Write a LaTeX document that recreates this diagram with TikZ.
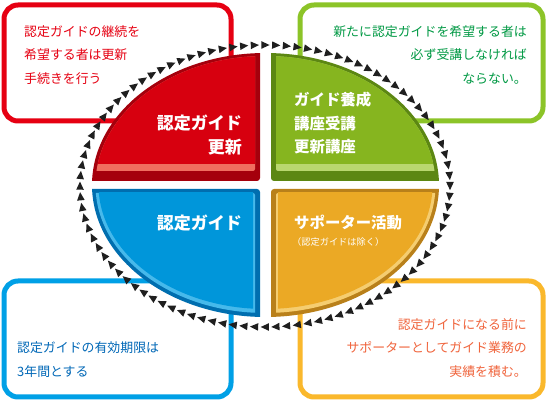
\documentclass[tikz,border=0pt]{standalone}
\usepackage{fontspec}
\setmainfont{Noto Sans CJK JP}
\usetikzlibrary{decorations.markings}
\definecolor{redA}{RGB}{215,0,15}
\definecolor{redR}{RGB}{165,0,12}
\definecolor{redH}{RGB}{240,110,95}
\definecolor{grnA}{RGB}{134,181,31}
\definecolor{grnR}{RGB}{92,135,18}
\definecolor{grnH}{RGB}{185,215,110}
\definecolor{bluA}{RGB}{0,150,218}
\definecolor{bluR}{RGB}{0,110,175}
\definecolor{bluH}{RGB}{70,185,235}
\definecolor{orgA}{RGB}{235,169,37}
\definecolor{orgR}{RGB}{185,128,26}
\definecolor{orgH}{RGB}{245,205,112}
\definecolor{redB}{RGB}{230,0,18}
\definecolor{grnB}{RGB}{140,196,40}
\definecolor{bluB}{RGB}{0,160,230}
\definecolor{orgB}{RGB}{250,184,44}
\definecolor{redT}{RGB}{230,0,18}
\definecolor{grnT}{RGB}{0,153,68}
\definecolor{bluT}{RGB}{0,104,183}
\definecolor{orgT}{RGB}{240,100,60}
\begin{document}
\begin{tikzpicture}[x=1pt,y=-1pt,
  infobox/.style={line width=5pt,rounded corners=14pt,fill=white},
  boxtext/.style={inner sep=0pt,font=\fontsize{12.9}{14}\selectfont},
  bigtext/.style={inner sep=0pt,text=white,font=\bfseries\fontsize{17}{18}\selectfont},
  midtext/.style={inner sep=0pt,text=white,font=\bfseries\fontsize{15.4}{17}\selectfont},
  smalltext/.style={inner sep=0pt,text=white,font=\fontsize{9.2}{10}\selectfont},
  ring/.style={decorate,decoration={markings,
     mark=between positions 0 and 0.999 step 0.0104167 with {\fill[black!88] (4.2,0) -- (-4,3.8) -- (-4,-3.8) -- cycle;}}}
]
\useasboundingbox (0,0) rectangle (547,403);
\coordinate (C) at (265.5,185);
\coordinate (R) at (265,186);
% info boxes
\draw[infobox,draw=redB] (4,5) rectangle (231,121);
\draw[infobox,draw=grnB] (300,5) rectangle (543,121);
\draw[infobox,draw=bluB] (4,281) rectangle (231,397);
\draw[infobox,draw=orgB] (300,281) rectangle (543,397);
% red quadrant
\begin{scope}
\clip[rounded corners=3pt] (40,20) rectangle (260,181);
\fill[redR] (C) ellipse [x radius=173.5, y radius=132];
\end{scope}
\begin{scope}
\clip[rounded corners=2pt] (40,20) rectangle (255,171);
\fill[redH] (C) ellipse [x radius=170, y radius=129];
\end{scope}
\begin{scope}
\clip (40,20) rectangle (255,164);
\fill[redA] (C) ellipse [x radius=170, y radius=129];
\end{scope}
% green quadrant
\begin{scope}
\clip[rounded corners=3pt] (271,20) rectangle (480,181);
\fill[grnR] (C) ellipse [x radius=173.5, y radius=132];
\end{scope}
\begin{scope}
\clip[rounded corners=2pt] (276,20) rectangle (480,171);
\fill[grnH] (C) ellipse [x radius=170, y radius=129];
\end{scope}
\begin{scope}
\clip (276,20) rectangle (480,164);
\fill[grnA] (C) ellipse [x radius=170, y radius=129];
\end{scope}
% blue quadrant
\begin{scope}
\clip[rounded corners=3pt] (40,189) rectangle (260,350);
\fill[bluR] (C) ellipse [x radius=173.5, y radius=132];
\end{scope}
\begin{scope}
\clip[rounded corners=2pt] (40,193) rectangle (255,350);
\fill[bluH] (C) ellipse [x radius=170, y radius=128];
\end{scope}
\begin{scope}
\clip (40,193) rectangle (253,350);
\fill[bluA] (C) ellipse [x radius=167, y radius=124];
\end{scope}
% orange quadrant
\begin{scope}
\clip[rounded corners=3pt] (271,189) rectangle (480,350);
\fill[orgR] (C) ellipse [x radius=173.5, y radius=132];
\end{scope}
\begin{scope}
\clip[rounded corners=2pt] (276,193) rectangle (480,350);
\fill[orgH] (C) ellipse [x radius=170, y radius=128];
\end{scope}
\begin{scope}
\clip (278,193) rectangle (480,350);
\fill[orgA] (C) ellipse [x radius=167, y radius=124];
\end{scope}
% ring of arrowheads (clockwise)
\path[ring] (R) ellipse [x radius=185, y radius=141];
% quadrant labels
\node[bigtext,anchor=east] (q1a) at (242,123) {認定ガイド};
\node[bigtext,anchor=east] (q1b) at (242,147) {更新};
\node[midtext,anchor=west] (q2a) at (294,100) {ガイド養成};
\node[midtext,anchor=west] (q2b) at (294,124) {講座受講};
\node[midtext,anchor=west] (q2c) at (294,147) {更新講座};
\node[bigtext,anchor=east] (q3a) at (242,223) {認定ガイド};
\node[midtext,anchor=west] (q4a) at (294,223) {サポーター活動};
\node[smalltext,anchor=west] (q4b) at (292,242) {（認定ガイドは除く）};
% box texts
\node[boxtext,text=redT,anchor=west] (t1a) at (24,32) {認定ガイドの継続を};
\node[boxtext,text=redT,anchor=west] (t1b) at (24,55) {希望する者は更新};
\node[boxtext,text=redT,anchor=west] (t1c) at (24,79) {手続きを行う};
\node[boxtext,text=grnT,anchor=east] (t2a) at (527,32) {新たに認定ガイドを希望する者は};
\node[boxtext,text=grnT,anchor=east] (t2b) at (527,55) {必ず受講しなければ};
\node[boxtext,text=grnT,anchor=east] (t2c) at (527,79) {ならない。};
\node[boxtext,text=bluT,anchor=west] (t3a) at (17,348) {認定ガイドの有効期限は};
\node[boxtext,text=bluT,anchor=west] (t3b) at (17,372) {3年間とする};
\node[boxtext,text=orgT,anchor=east] (t4a) at (527,325) {認定ガイドになる前に};
\node[boxtext,text=orgT,anchor=east] (t4b) at (527,348) {サポーターとしてガイド業務の};
\node[boxtext,text=orgT,anchor=east] (t4c) at (527,372) {実績を積む。};
\end{tikzpicture}
\end{document}
